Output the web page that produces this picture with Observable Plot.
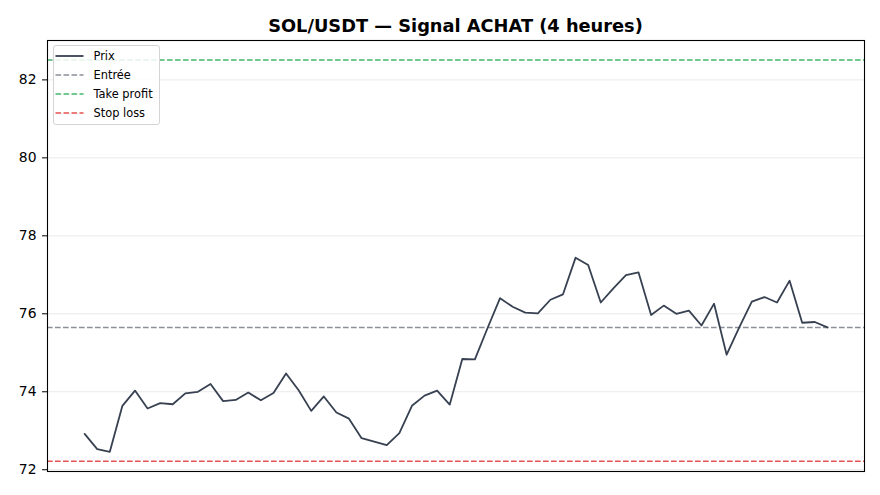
<!DOCTYPE html>
<html><head><meta charset="utf-8">
<script src="https://cdn.jsdelivr.net/npm/d3@7"></script>
<script src="https://cdn.jsdelivr.net/npm/@observablehq/plot@0.6"></script>
<style>
body{margin:0;background:#fff;}
#wrap{position:relative;width:880px;height:495px;font-family:"DejaVu Sans",sans-serif;}
#wrap > svg{position:absolute;left:0;top:0;}
#title{position:absolute;left:47px;width:817px;top:16.6px;text-align:center;font-weight:bold;font-size:17.8px;line-height:1;color:#000;}
#legend{position:absolute;left:52.5px;top:45px;width:107.5px;height:80px;box-sizing:border-box;border:1px solid #d4d4d4;border-radius:3px;background:rgba(255,255,255,0.85);}
#legend svg{position:absolute;left:-1px;top:-1px;}
</style></head><body>
<div id="wrap"><div id="title">SOL/USDT — Signal ACHAT (4 heures)</div></div>
<script>
// Price series (4h closes)
const prices = [
  72.92, 72.53, 72.46, 73.64, 74.03, 73.57, 73.71, 73.68, 73.96, 74.00,
  74.20, 73.76, 73.79, 73.98, 73.78, 73.97, 74.47, 74.04, 73.51, 73.88,
  73.47, 73.31, 72.81, 72.72, 72.63, 72.94, 73.64, 73.90, 74.03, 73.67,
  74.84, 74.83, 75.63, 76.40, 76.18, 76.03, 76.01, 76.36, 76.50, 77.44,
  77.25, 76.29, 76.65, 76.99, 77.06, 75.97, 76.21, 76.00, 76.08, 75.70,
  76.26, 74.95, 75.65, 76.31, 76.43, 76.29, 76.85, 75.77, 75.79, 75.65
];
const levelNames = ["Entrée", "Take profit", "Stop loss"];
const levelValues = [75.65, 82.51, 72.22];
const levelColors = ["#6b7280", "#16a34a", "#dc2626"];
const yTicks = [72, 74, 76, 78, 80, 82];
const legendNames = ["Prix", ...levelNames];

const data = prices.map((p, i) => ({i, p}));
const levels = levelNames.map((n, k) => ({name: n, value: levelValues[k], color: levelColors[k]}));

const chart = Plot.plot({
  width: 880, height: 495,
  marginLeft: 47, marginRight: 16, marginTop: 40, marginBottom: 24,
  style: {fontFamily: "DejaVu Sans, sans-serif", fontSize: "13.9px", color: "#000", background: "transparent"},
  x: {domain: [-2.95, prices.length - 1 + 2.95], axis: null},
  y: {domain: [71.955, 83.01], ticks: yTicks, tickSize: 5, tickPadding: 6, label: null, tickFormat: d => String(d)},
  marks: [
    Plot.ruleY(yTicks, {stroke: "#e8e8e8", strokeWidth: 0.9}),
    Plot.ruleY(levels, {y: "value", stroke: "color", strokeOpacity: 0.8, strokeWidth: 1.5, strokeDasharray: "5.6,2.4"}),
    Plot.lineY(data, {x: "i", y: "p", stroke: "#374151", strokeWidth: 1.8}),
    Plot.frame({stroke: "#000", strokeWidth: 1.1}),
    Plot.axisY({ticks: yTicks, tickSize: 5, tickPadding: 6, tickFormat: d => String(d), label: null, stroke: "#000"})
  ]
});
const wrap = document.getElementById("wrap");
wrap.prepend(chart);

// legend
const leg = document.createElement("div");
leg.id = "legend";
wrap.appendChild(leg);
const legColors = ["#374151", ...levelColors];
const svg = d3.select(leg).append("svg").attr("width", 109).attr("height", 81);
legendNames.forEach((name, k) => {
  const y = 11 + k * 19;
  svg.append("line").attr("x1", 2.5).attr("x2", 30.5).attr("y1", y).attr("y2", y)
    .attr("stroke", legColors[k]).attr("stroke-opacity", k === 0 ? 1 : 0.8)
    .attr("stroke-width", k === 0 ? 1.8 : 1.5)
    .attr("stroke-dasharray", k === 0 ? null : "5.6,2.4");
  svg.append("text").attr("x", 40.5).attr("y", y).attr("dy", "0.36em")
    .attr("font-family", "DejaVu Sans, sans-serif").attr("font-size", "11.4px").attr("fill", "#000")
    .text(name);
});
</script>
</body></html>
